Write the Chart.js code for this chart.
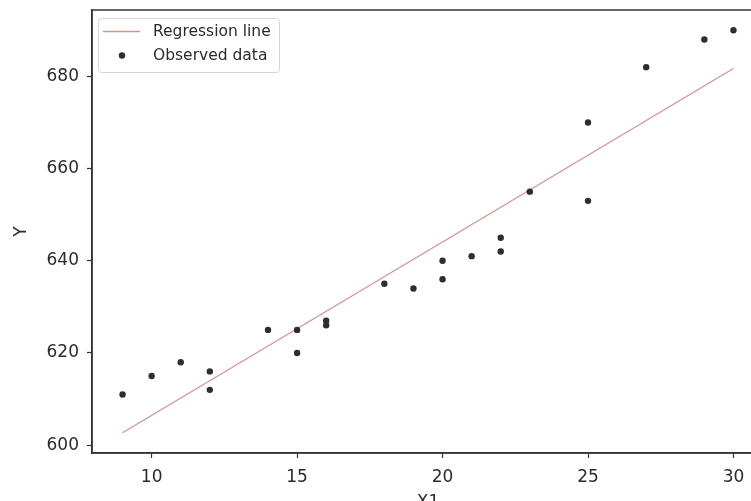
<!DOCTYPE html>
<html>
<head>
<meta charset="utf-8">
<script src="https://cdn.jsdelivr.net/npm/chart.js@4/dist/chart.umd.min.js"></script>
<style>
  html, body { margin: 0; padding: 0; background: #fff; }
  #wrap { width: 751px; height: 501px; overflow: hidden; position: relative; }
  canvas { display: block; }
</style>
</head>
<body>
<div id="wrap">
  <canvas id="chart" width="770" height="515"></canvas>
</div>
<script>
// dados
const xObserved = [9, 10, 11, 12, 12, 14, 15, 15, 16, 16, 18, 19, 20, 20, 21, 22, 22, 23, 25, 25, 27, 29, 30];
const yObserved = [611, 615, 618, 616, 612, 625, 625, 620, 627, 626, 635, 634, 640, 636, 641, 645, 642, 655, 653, 670, 682, 688, 690];
const xLine = [9, 30];
const yLine = [602.7, 681.7];
const xTicks = [10, 15, 20, 25, 30];
const yTicks = [600, 620, 640, 660, 680];

const FONT = 'DejaVu Sans';
const textColor = '#2b2b2b';
const axisColor = '#333';

// moldura do gráfico (os 4 lados)
const framePlugin = {
    id: 'frame',
    afterDatasetsDraw(chart) {
        const { ctx, chartArea: a } = chart;
        ctx.save();
        ctx.strokeStyle = axisColor;
        ctx.lineWidth = 1.5;
        ctx.strokeRect(a.left, a.top, a.right - a.left, a.bottom - a.top);
        ctx.restore();
    }
};

// legenda dentro da área do gráfico, no canto superior esquerdo
const innerLegend = {
    id: 'innerLegend',
    afterDraw(chart) {
        const { ctx } = chart;
        const ds = chart.data.datasets;
        ctx.save();
        ctx.fillStyle = 'rgba(255,255,255,0.85)';
        ctx.strokeStyle = '#d6d6d6';
        ctx.lineWidth = 1;
        ctx.beginPath();
        ctx.roundRect(98.5, 18.5, 181, 54, 3);
        ctx.fill();
        ctx.stroke();

        ctx.font = '15.5px "' + FONT + '"';
        ctx.fillStyle = textColor;
        ctx.textBaseline = 'middle';

        // linha de regressão
        ctx.strokeStyle = ds[0].borderColor;
        ctx.lineWidth = ds[0].borderWidth;
        ctx.beginPath();
        ctx.moveTo(103, 31.5);
        ctx.lineTo(140, 31.5);
        ctx.stroke();
        ctx.fillText(ds[0].label, 153, 31.5);

        // pontos observados
        ctx.fillStyle = ds[1].backgroundColor;
        ctx.beginPath();
        ctx.arc(122, 55.5, ds[1].pointRadius, 0, Math.PI * 2);
        ctx.fill();
        ctx.fillStyle = textColor;
        ctx.fillText(ds[1].label, 153, 55.5);
        ctx.restore();
    }
};

const ctx = document.getElementById('chart').getContext('2d');

new Chart(ctx, {
    type: 'scatter',
    data: {
        datasets: [
            {
                type: 'line',
                label: 'Regression line',
                data: xLine.map((x, i) => ({ x: x, y: yLine[i] })),
                borderColor: 'rgba(205, 135, 135, 0.9)',
                borderWidth: 1.3,
                pointRadius: 0,
                fill: false,
                order: 2
            },
            {
                label: 'Observed data',
                data: xObserved.map((x, i) => ({ x: x, y: yObserved[i] })),
                backgroundColor: '#2e2e2e',
                borderColor: '#2e2e2e',
                pointRadius: 3.2,
                borderWidth: 0,
                order: 1
            }
        ]
    },
    options: {
        responsive: false,
        animation: false,
        devicePixelRatio: 1,
        layout: { padding: { top: 10, right: 6, left: 0, bottom: 0 } },
        plugins: {
            legend: { display: false },
            tooltip: { enabled: false }
        },
        scales: {
            x: {
                type: 'linear',
                min: 7.95,
                max: 31.05,
                afterBuildTicks: (scale) => { scale.ticks = xTicks.map(v => ({ value: v })); },
                afterFit: (scale) => {
                    scale.height = 62;
                    scale.paddingLeft = 0;
                    scale.paddingRight = 0;
                },
                grid: { drawOnChartArea: false, drawTicks: true, tickLength: 5, color: axisColor, tickWidth: 1.2 },
                border: { display: true, color: axisColor, width: 1.5 },
                ticks: { color: textColor, padding: 9, maxRotation: 0, font: { family: FONT, size: 17 } },
                title: { display: true, text: 'X1', color: textColor, padding: { top: 0, bottom: 2 }, font: { family: FONT, size: 17 } }
            },
            y: {
                type: 'linear',
                min: 598.3,
                max: 694.4,
                afterBuildTicks: (scale) => { scale.ticks = yTicks.map(v => ({ value: v })); },
                afterFit: (scale) => {
                    scale.width = 92;
                    scale.paddingTop = 0;
                    scale.paddingBottom = 0;
                },
                grid: { drawOnChartArea: false, drawTicks: true, tickLength: 5, color: axisColor, tickWidth: 1.2 },
                border: { display: true, color: axisColor, width: 1.5 },
                ticks: { color: textColor, padding: 8, font: { family: FONT, size: 17 } },
                title: { display: true, text: 'Y', color: textColor, padding: { top: 11, bottom: 0 }, font: { family: FONT, size: 17 } }
            }
        }
    },
    plugins: [framePlugin, innerLegend]
});
</script>
</body>
</html>
